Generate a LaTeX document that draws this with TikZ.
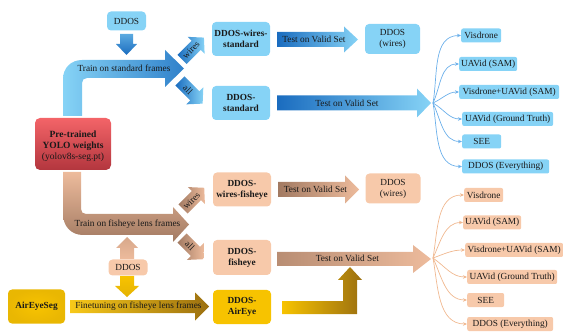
\documentclass[tikz,border=0pt]{standalone}
\usepackage{fontspec}
\setmainfont{Liberation Serif}
\usetikzlibrary{arrows.meta}
\definecolor{lblue}{HTML}{86D3F6}
\definecolor{dblue}{HTML}{1A6CBF}
\definecolor{fanblue}{HTML}{6CB0EA}
\definecolor{peach}{HTML}{F7C9AA}
\definecolor{lpeach}{HTML}{EDBB9C}
\definecolor{brown}{HTML}{A27A62}
\definecolor{fanpeach}{HTML}{F0B890}
\definecolor{gold}{HTML}{F7C300}
\definecolor{dgold}{HTML}{9C7010}
\definecolor{redtop}{HTML}{F36468}
\definecolor{redbot}{HTML}{B3363E}
% horizontal block arrow: #1 opts, #2 x start, #3 x tip, #4 y centre, #5 shaft half, #6 head half, #7 head length
\newcommand{\harrow}[7]{\shade[#1] (#2,#4-#5) -- (#3-#7,#4-#5) -- (#3-#7,#4-#6) -- (#3,#4) -- (#3-#7,#4+#6) -- (#3-#7,#4+#5) -- (#2,#4+#5) -- cycle;}
% rotated block arrow: #1 opts, #2 base, #3 angle, #4 length, #5 shaft half, #6 head half
\newcommand{\rarrow}[6]{\begin{scope}[shift={#2},rotate=#3]\shade[#1] (0,-#5) -- (#4-11,-#5) -- (#4-11,-#6) -- (#4,0) -- (#4-11,#6) -- (#4-11,#5) -- (0,#5) -- cycle;\end{scope}}
\begin{document}
\begin{tikzpicture}[x=1pt,y=-1pt,
  font=\fontsize{9.3}{11}\selectfont,
  bx/.style={rounded corners=4pt, inner sep=1pt, align=center, text=black!90},
  fb/.style={rounded corners=2pt, inner sep=1pt, minimum height=14, anchor=west, text=black!90},
  lbl/.style={inner sep=0pt, text=black!90},
  fanb/.style={draw=fanblue, line width=0.7pt, -{Stealth[length=4pt,width=3.5pt]}},
  fanp/.style={draw=fanpeach, line width=0.7pt, -{Stealth[length=4pt,width=3.5pt]}}]
\useasboundingbox (0,0) rectangle (563,334);

% ---------- blue (standard) part ----------
\shade[left color=lblue, middle color=lblue!92!dblue, right color=dblue!80!lblue]
  (63,116) -- (63,79) .. controls (63,68) and (71,60) .. (82,60) -- (165,60) -- (165,50) -- (184,68.5) -- (165,87) -- (165,78)
  -- (87,78) .. controls (84,78) and (82,80) .. (82,83) -- (82,116) -- cycle;
\node[lbl] at (124,68.5) {Train on standard frames};

\shade[top color=lblue!60!dblue, bottom color=dblue] (120,34) -- (133,34) -- (133,44) -- (137,44) -- (126.5,55) -- (116,44) -- (120,44) -- cycle;

\rarrow{left color=dblue, right color=lblue}{(182,59.5)}{45}{31}{6.5}{12}
\node[lbl, rotate=45] at (191,50) {wires};
\rarrow{left color=dblue, right color=lblue}{(180,81)}{-45}{32}{6.5}{12}
\node[lbl, rotate=-45] at (188,89.5) {all};

\harrow{left color=dblue, right color=lblue}{277}{358}{39.5}{7.5}{13}{14}
\node[lbl] at (314,39.5) {Test on Valid Set};
\harrow{left color=dblue, right color=lblue}{277}{431}{103}{7.5}{14.5}{14}
\node[lbl] at (347,103) {Test on Valid Set};

\node[bx, fill=lblue, minimum width=39, minimum height=19] (ddosA) at (126.5,21) {DDOS};
\node[bx, fill=lblue, minimum width=58, minimum height=34, font=\fontsize{9.3}{11}\selectfont\bfseries] (dws) at (241,39) {DDOS-wires-\\standard};
\node[bx, fill=lblue, minimum width=55, minimum height=30] (dwA) at (392.5,39) {DDOS\\(wires)};
\node[bx, fill=lblue, minimum width=58, minimum height=34, font=\fontsize{9.3}{11}\selectfont\bfseries] (ds) at (241,103) {DDOS-\\standard};

\shade[rounded corners=5pt, top color=redtop, bottom color=redbot] (35,118) rectangle (111,170);
\node[lbl, align=center, font=\fontsize{9.5}{11}\selectfont] (yolo) at (73,146) {\textbf{Pre-trained}\\\textbf{YOLO weights}\\(yolov8s-seg.pt)};

\node[fb, fill=lblue, minimum width=40] (b1) at (461,35.5) {Visdrone};
\node[fb, fill=lblue, minimum width=58] (b2) at (459,64) {UAVid (SAM)};
\node[fb, fill=lblue, minimum width=100] (b3) at (459,92) {Visdrone+UAVid (SAM)};
\node[fb, fill=lblue, minimum width=91] (b4) at (462,119) {UAVid (Ground Truth)};
\node[fb, fill=lblue, minimum width=39] (b5) at (462,141.5) {SEE};
\node[fb, fill=lblue, minimum width=87] (b6) at (462,166.5) {DDOS (Everything)};
\coordinate (fB) at (433,103);
\draw[fanb] (fB) to[out=80,in=180] (b1.west);
\draw[fanb] (fB) to[out=65,in=180] (b2.west);
\draw[fanb] (fB) to[out=25,in=180] (b3.west);
\draw[fanb] (fB) to[out=-30,in=180] (b4.west);
\draw[fanb] (fB) to[out=-65,in=180] (b5.west);
\draw[fanb] (fB) to[out=-80,in=180] (b6.west);

% ---------- peach (fisheye) part ----------
\shade[top color=lpeach, middle color=lpeach!85!brown, bottom color=brown]
  (63,172) -- (63,214) .. controls (63,226) and (71,235) .. (83,235) -- (173,235) -- (173,242) -- (189,224.5) -- (173,207) -- (173,214)
  -- (86,214) .. controls (83,214) and (81,212) .. (81,209) -- (81,172) -- cycle;
\node[lbl] at (127.5,224.5) {Train on fisheye lens frames};

\shade[top color=lpeach!70!brown, bottom color=lpeach] (120,259) -- (120,248) -- (116,248) -- (127,237) -- (138,248) -- (134,248) -- (134,259) -- cycle;
\shade[top color=gold, bottom color=gold!80!dgold] (120,276) -- (134,276) -- (134,286) -- (139,286) -- (127,297) -- (115,286) -- (120,286) -- cycle;

\rarrow{left color=brown, right color=lpeach}{(183,209)}{45}{30}{6.5}{12}
\node[lbl, rotate=45] at (191.5,200.5) {wires};
\rarrow{left color=brown, right color=lpeach}{(182,238)}{-45}{30}{6.5}{12}
\node[lbl, rotate=-45] at (190,246) {all};

\harrow{left color=brown, right color=lpeach}{278}{359}{189.5}{7.5}{14}{14}
\node[lbl] at (315.5,189.5) {Test on Valid Set};
\harrow{left color=brown!70!lpeach, right color=lpeach}{277}{431}{259}{7}{14}{18}
\node[lbl] at (347.5,258.5) {Test on Valid Set};

\harrow{left color=gold!90!white, right color=dgold}{70}{209}{306.5}{6.5}{14}{14}
\node[lbl] at (138.5,306.5) {Finetuning on fisheye lens frames};
\shade[left color=gold, right color=dgold] (282,301) -- (343,301) -- (343,280) -- (338,280) -- (350,267) -- (362,280) -- (357,280) -- (357,314) -- (282,314) -- cycle;

\node[bx, fill=peach, minimum width=58, minimum height=34, font=\fontsize{9.3}{11}\selectfont\bfseries] (dwf) at (242,189.5) {DDOS-\\wires-fisheye};
\node[bx, fill=peach, minimum width=55, minimum height=30] (dwB) at (393,188.5) {DDOS\\(wires)};
\node[bx, fill=peach, minimum width=58, minimum height=35, font=\fontsize{9.3}{11}\selectfont\bfseries] (df) at (242,257.5) {DDOS-\\fisheye};
\node[bx, fill=gold, minimum width=58, minimum height=34, font=\fontsize{9.3}{11}\selectfont\bfseries] (dae) at (242,307) {DDOS-\\AirEye};
\node[bx, fill=peach, minimum width=39, minimum height=16] (ddosB) at (128,267.5) {DDOS};
\node[bx, inner color=gold, outer color=gold!85!dgold, minimum width=57, minimum height=34, font=\fontsize{9.3}{11}\selectfont\bfseries] (aes) at (36.5,306.5) {AirEyeSeg};

\node[fb, fill=peach, minimum width=39] (p1) at (464,195) {Visdrone};
\node[fb, fill=peach, minimum width=58] (p2) at (463,222.5) {UAVid (SAM)};
\node[fb, fill=peach, minimum width=98] (p3) at (465,250) {Visdrone+UAVid (SAM)};
\node[fb, fill=peach, minimum width=90] (p4) at (467,277) {UAVid (Ground Truth)};
\node[fb, fill=peach, minimum width=37] (p5) at (467,300) {SEE};
\node[fb, fill=peach, minimum width=86] (p6) at (467,324) {DDOS (Everything)};
\coordinate (fP) at (433,258);
\draw[fanp] (fP) to[out=80,in=180] (p1.west);
\draw[fanp] (fP) to[out=65,in=180] (p2.west);
\draw[fanp] (fP) to[out=20,in=180] (p3.west);
\draw[fanp] (fP) to[out=-35,in=180] (p4.west);
\draw[fanp] (fP) to[out=-65,in=180] (p5.west);
\draw[fanp] (fP) to[out=-80,in=180] (p6.west);
\end{tikzpicture}
\end{document}
